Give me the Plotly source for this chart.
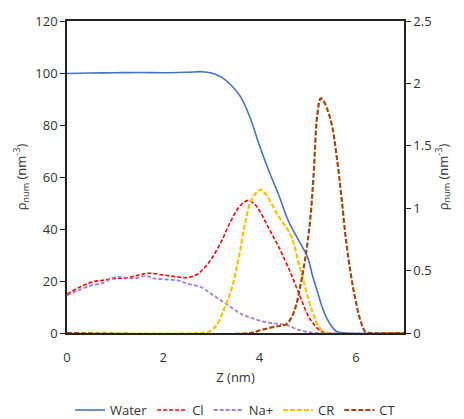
import plotly.graph_objects as go

# Left-axis series (nm^-3)
water_z = [0, 0.5, 1.0, 1.5, 2.0, 2.5, 2.8, 3.0, 3.2, 3.4, 3.6, 3.8, 4.0, 4.2, 4.4, 4.6, 4.8, 5.0, 5.1, 5.2, 5.3, 5.4, 5.5, 5.6, 5.8, 7.0]
water = [99.8, 100.0, 100.1, 100.2, 100.1, 100.3, 100.5, 100.0, 98.5, 95.5, 91, 83, 72, 62, 53, 43, 36, 29, 22, 16, 10, 5.5, 2.5, 0.6, 0, 0]

cl_z = [0, 0.25, 0.5, 0.75, 1.0, 1.25, 1.5, 1.7, 2.0, 2.25, 2.5, 2.7, 2.85, 3.0, 3.2, 3.4, 3.6, 3.77, 3.9, 4.0, 4.2, 4.4, 4.6, 4.8, 5.0, 5.1, 5.25, 5.4, 7.0]
cl = [15, 17.5, 19.5, 20.3, 21, 21.2, 22.3, 23, 22.3, 21.7, 21.3, 22.5, 25, 28.5, 35, 43, 49, 51, 49.5, 47, 40, 33, 25, 16, 7, 4, 1, 0, 0]

na_z = [0, 0.25, 0.5, 0.75, 1.0, 1.2, 1.4, 1.65, 1.8, 2.0, 2.3, 2.5, 2.8, 3.0, 3.2, 3.4, 3.6, 3.8, 4.0, 4.2, 4.4, 4.6, 4.8, 5.0, 5.2, 7.0]
na = [14.5, 16.5, 18.3, 19.3, 21.5, 21.3, 21, 22, 21, 20.7, 20.2, 19, 17.5, 15, 12.5, 10, 7.5, 6, 4.8, 3.9, 3.5, 2.8, 1.3, 0.4, 0, 0]

# Right-axis series (nm^-3)
cr_z = [0, 2.8, 2.95, 3.1, 3.25, 3.4, 3.5, 3.6, 3.7, 3.8, 3.9, 4.0, 4.05, 4.15, 4.3, 4.4, 4.5, 4.6, 4.7, 4.8, 4.9, 5.0, 5.1, 5.2, 5.3, 5.4, 7.0]
cr = [0, 0, 0.01, 0.06, 0.18, 0.33, 0.48, 0.67, 0.88, 1.04, 1.11, 1.145, 1.145, 1.10, 1.00, 0.93, 0.875, 0.82, 0.73, 0.58, 0.44, 0.29, 0.17, 0.07, 0.02, 0, 0]

ct_z = [0, 3.8, 4.0, 4.2, 4.4, 4.55, 4.65, 4.75, 4.85, 4.95, 5.05, 5.12, 5.2, 5.27, 5.32, 5.4, 5.5, 5.6, 5.7, 5.8, 5.9, 6.0, 6.1, 6.2, 6.3, 7.0]
ct = [0, 0, 0.02, 0.04, 0.056, 0.069, 0.115, 0.21, 0.385, 0.6, 0.9, 1.25, 1.75, 1.88, 1.865, 1.80, 1.67, 1.42, 1.09, 0.73, 0.46, 0.25, 0.094, 0.01, 0, 0]

FONT = "Open Sans"
TXT = "#333333"
fig = go.Figure()
fig.add_trace(go.Scatter(x=water_z, y=water, name="Water", mode="lines",
                         line=dict(color="#4472C4", width=1.6, shape="spline")))
fig.add_trace(go.Scatter(x=cl_z, y=cl, name="Cl", mode="lines",
                         line=dict(color="#FF0000", width=1.6, dash="4px,2px", shape="spline")))
fig.add_trace(go.Scatter(x=na_z, y=na, name="Na+", mode="lines",
                         line=dict(color="#A47FD0", width=1.8, dash="4px,2px", shape="spline")))
fig.add_trace(go.Scatter(x=cr_z, y=cr, name="CR", mode="lines", yaxis="y2",
                         line=dict(color="#FFC000", width=2.2, dash="5px,2px", shape="spline")))
fig.add_trace(go.Scatter(x=ct_z, y=ct, name="CT", mode="lines", yaxis="y2",
                         line=dict(color="#9E480E", width=2.2, dash="5px,2px", shape="spline")))

tickfont = dict(family=FONT, size=13, color=TXT)
titlefont = dict(family=FONT, size=13, color=TXT)
fig.update_layout(
    width=464, height=419,
    margin=dict(l=67, r=60, t=21, b=86, autoexpand=False),
    paper_bgcolor="white", plot_bgcolor="white",
    font=dict(family=FONT, size=13, color=TXT),
    showlegend=True,
    legend=dict(orientation="h", x=0.5, xanchor="center", y=-0.247, yanchor="middle",
                font=dict(family=FONT, size=13, color=TXT),
                itemwidth=30, tracegroupgap=0),
    xaxis=dict(range=[0, 7], dtick=2, tick0=0, showgrid=False, zeroline=False,
               showline=True, linecolor="#222222", linewidth=1.5, mirror=True,
               ticks="", tickfont=tickfont, layer="below traces", ticklabelstandoff=12,
               title=dict(text="Z (nm)", font=titlefont, standoff=8)),
    yaxis=dict(range=[0, 120], dtick=20, showgrid=False, zeroline=False,
               showline=True, linecolor="#222222", linewidth=1.5,
               ticks="outside", ticklen=5, tickcolor="#222222", tickfont=tickfont,
               layer="below traces",
               title=dict(text="ρ<sub>num</sub> (nm<sup>-3</sup>)", font=titlefont, standoff=6)),
    yaxis2=dict(range=[0, 2.5], dtick=0.5, overlaying="y", side="right", showgrid=False, zeroline=False,
                showline=True, linecolor="#222222", linewidth=1.5,
                ticks="outside", ticklen=5, tickcolor="#222222", tickfont=tickfont,
                layer="below traces",
                title=dict(text="ρ<sub>num</sub> (nm<sup>-3</sup>)", font=titlefont, standoff=8)),
)

fig.write_html("out.html")
